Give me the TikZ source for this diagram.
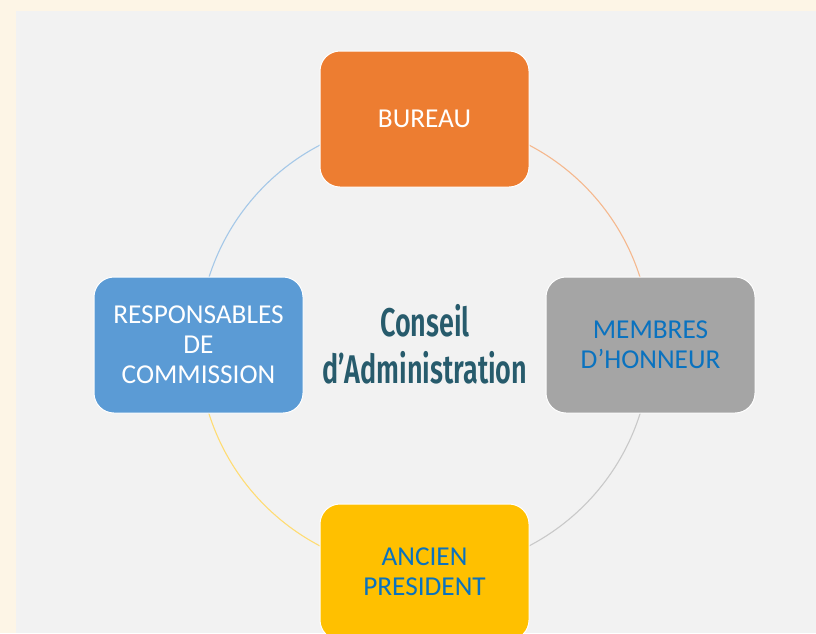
\documentclass[tikz,border=0pt]{standalone}
\usepackage{fontspec}
\setmainfont{Carlito}
\newfontfamily\titlefont[UprightFont={* SemiBold},FakeStretch=0.675]{Fira Sans}
\definecolor{cream}{HTML}{FDF5E6}
\definecolor{panel}{HTML}{F2F2F2}
\definecolor{orangebox}{HTML}{ED7D31}
\definecolor{bluebox}{HTML}{5B9BD5}
\definecolor{graybox}{HTML}{A5A5A5}
\definecolor{yellowbox}{HTML}{FFC000}
\definecolor{bluetext}{HTML}{0A72BF}
\definecolor{titlecol}{HTML}{275B6C}
\begin{document}
\begin{tikzpicture}[x=1pt,y=-1pt,
  box/.style={rectangle, rounded corners=20pt, minimum width=209pt, minimum height=136pt,
    draw=white, line width=1pt, font=\fontsize{27.3}{30}\selectfont, align=center, inner sep=0pt},
  ring/.style={line width=1.1pt}]
\useasboundingbox (0,0) rectangle (816,633);
\clip (0,0) rectangle (816,633);
\fill[cream] (0,0) rectangle (816,633);
\fill[panel] (16,11) rectangle (816,633);
\coordinate (c) at (424.5,345.5);
\draw[ring, bluebox!55] (c) ++(180:226) arc[start angle=180, end angle=270, radius=226];
\draw[ring, orangebox!55] (c) ++(270:226) arc[start angle=270, end angle=360, radius=226];
\draw[ring, graybox!60] (c) ++(0:226) arc[start angle=0, end angle=90, radius=226];
\draw[ring, yellowbox!55] (c) ++(90:226) arc[start angle=90, end angle=180, radius=226];
\node[box, fill=orangebox, text=white] (bureau) at (424.5,119) {BUREAU};
\node[box, fill=bluebox, text=white] (resp) at (198.5,345) {RESPONSABLES\\DE\\COMMISSION};
\node[box, fill=graybox, text=bluetext] (membres) at (650.5,345) {MEMBRES\\D’HONNEUR};
\node[box, fill=yellowbox, text=bluetext] (ancien) at (424.5,572) {ANCIEN\\PRESIDENT};
\node[align=center, text=titlecol, font=\titlefont\fontsize{40}{47}\selectfont] (title) at (425,344) {Conseil\\d’Administration};
\end{tikzpicture}
\end{document}
